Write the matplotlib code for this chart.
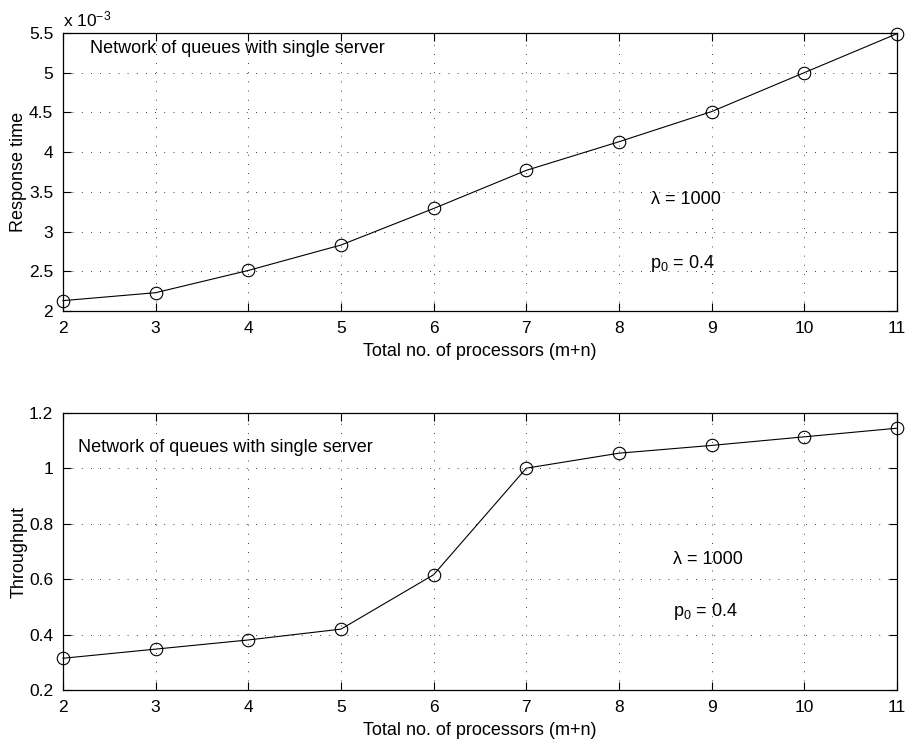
import matplotlib
matplotlib.use("Agg")
import matplotlib.pyplot as plt
from matplotlib.ticker import FuncFormatter

# du lieu doc tu hinh
processors = [2, 3, 4, 5, 6, 7, 8, 9, 10, 11]
response_time = [2.13e-3, 2.23e-3, 2.51e-3, 2.83e-3, 3.29e-3,
                 3.77e-3, 4.13e-3, 4.51e-3, 5.00e-3, 5.49e-3]
throughput = [0.316, 0.349, 0.382, 0.421, 0.617,
              1.001, 1.055, 1.083, 1.114, 1.145]

x_label = "Total no. of processors (m+n)"
note = "Network of queues with single server"

plt.rcParams["font.family"] = ["Liberation Sans", "DejaVu Sans"]
plt.rcParams["font.size"] = 13
plt.rcParams["mathtext.default"] = "regular"


def style_axes(ax):
    ax.grid(True, color="black", linestyle=(0, (1, 10)), linewidth=0.6)
    ax.tick_params(direction="in", top=True, right=True, length=6,
                   width=0.8, labelsize=12.5, pad=7)
    for s in ax.spines.values():
        s.set_linewidth(0.9)
    ax.set_xlim(2, 11)
    ax.set_xticks(processors)
    ax.set_xlabel(x_label, labelpad=5)


fig = plt.figure(figsize=(9.06, 7.45), dpi=100)
ax1 = fig.add_axes([0.0695, 0.5826, 0.9205, 0.3732])
ax2 = fig.add_axes([0.0695, 0.0732, 0.9205, 0.3725])

# --- thoi gian dap ung ---
ax1.plot(processors, response_time, "k-", marker="o", markersize=9,
         markerfacecolor="none", markeredgewidth=0.8, linewidth=0.8,
         clip_on=False)
style_axes(ax1)
ax1.set_ylim(2e-3, 5.5e-3)
ax1.set_yticks([v * 1e-3 for v in [2, 2.5, 3, 3.5, 4, 4.5, 5, 5.5]])
ax1.yaxis.set_major_formatter(FuncFormatter(lambda v, p: f"{v * 1e3:g}"))
ax1.set_ylabel("Response time", labelpad=1)
ax1.text(0.0, 1.012, r"x 10$^{-3}$", transform=ax1.transAxes, fontsize=12.5,
         va="bottom", ha="left")
ax1.text(2.29, 5.30e-3, note, va="center", ha="left")
ax1.text(8.35, 3.40e-3, "λ = 1000", va="center", ha="left")
ax1.text(8.33, 2.60e-3, r"p$_{0}$ = 0.4", va="center", ha="left")

# --- thong luong ---
ax2.plot(processors, throughput, "k-", marker="o", markersize=9,
         markerfacecolor="none", markeredgewidth=0.8, linewidth=0.8,
         clip_on=False)
style_axes(ax2)
ax2.set_ylim(0.2, 1.2)
ax2.set_yticks([0.2, 0.4, 0.6, 0.8, 1.0, 1.2])
ax2.yaxis.set_major_formatter(FuncFormatter(lambda v, p: f"{v:g}"))
ax2.set_ylabel("Throughput", labelpad=1)
ax2.text(2.16, 1.074, note, va="center", ha="left")
ax2.text(8.58, 0.671, "λ = 1000", va="center", ha="left")
ax2.text(8.58, 0.485, r"p$_{0}$ = 0.4", va="center", ha="left")

fig.savefig("out.png", dpi=100)
